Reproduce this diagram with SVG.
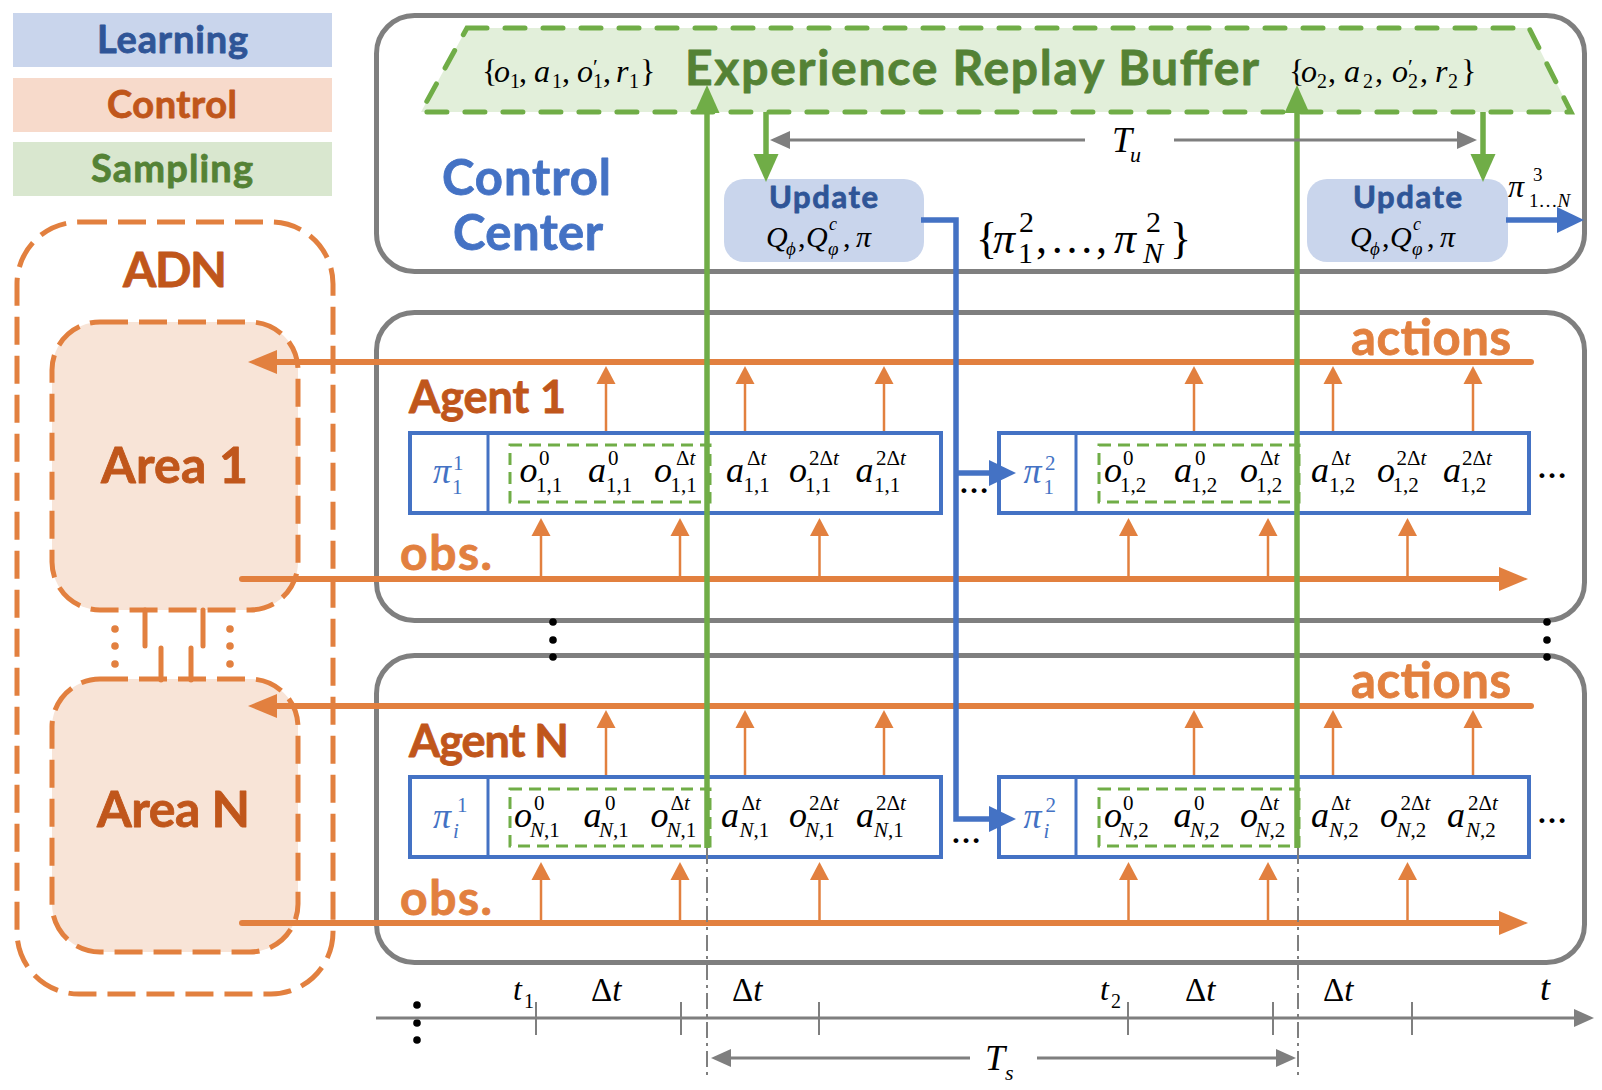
<svg xmlns="http://www.w3.org/2000/svg" width="1602" height="1090" viewBox="0 0 1602 1090">
<style>
.gbox{fill:none;stroke:#7f7f7f;stroke-width:5}
.pbox{fill:#fff;stroke:#4472c4;stroke-width:4}
.sdash{fill:none;stroke:#70ad47;stroke-width:3;stroke-dasharray:12 7}
.odash{stroke:#e2803f;stroke-width:5;stroke-dasharray:28 11}
.ol{stroke:#e2803f;stroke-width:6;fill:none;stroke-linecap:round}
.ot{stroke:#e2803f;stroke-width:2.5;fill:none}
.gl{stroke:#70ad47;stroke-width:5.5;fill:none}
.bl{stroke:#4472c4;stroke-width:5.5;fill:none;stroke-linejoin:miter}
.ga{stroke:#7f7f7f;stroke-width:3;fill:none}
.gd{stroke:#7f7f7f;stroke-width:2;stroke-dasharray:16 5 3 5;fill:none}
.tick{stroke:#7f7f7f;stroke-width:2}
.cal{font-family:Lato,"Open Sans",sans-serif;font-weight:700;stroke-width:0.8px;stroke-linejoin:round}
.c-blue{fill:#4472c4;stroke:#4472c4}
.c-dblue{fill:#2f5597;stroke:#2f5597}
.c-brown{fill:#c0561b;stroke:#c0561b}
.c-orange{fill:#e2803f;stroke:#e2803f}
.c-green{fill:#548235;stroke:#548235}
.tm{font-family:"Liberation Serif","Times New Roman",serif;fill:#000}
.m{font-family:"Liberation Serif","Times New Roman",serif;font-size:36px;font-style:italic;fill:#000}
.s{font-size:21px;font-style:normal}
.i{font-style:italic}
.n{font-style:normal}
.pi{fill:#4472c4}
.dot{fill:#000}
.odot{fill:#e2803f}
</style>
<defs>
<marker id="mo" markerUnits="userSpaceOnUse" markerWidth="30" markerHeight="30" refX="1" refY="0" orient="auto" overflow="visible"><path d="M0,-12 L29,0 L0,12 z" fill="#e2803f"/></marker>
<marker id="mos" markerUnits="userSpaceOnUse" markerWidth="20" markerHeight="20" refX="1" refY="0" orient="auto" overflow="visible"><path d="M0,-9.5 L18,0 L0,9.5 z" fill="#e2803f"/></marker>
<marker id="mg" markerUnits="userSpaceOnUse" markerWidth="30" markerHeight="30" refX="1" refY="0" orient="auto" overflow="visible"><path d="M0,-12.5 L28,0 L0,12.5 z" fill="#70ad47"/></marker>
<marker id="mb" markerUnits="userSpaceOnUse" markerWidth="30" markerHeight="30" refX="1" refY="0" orient="auto" overflow="visible"><path d="M0,-13 L27,0 L0,13 z" fill="#4472c4"/></marker>
<marker id="mgr" markerUnits="userSpaceOnUse" markerWidth="22" markerHeight="22" refX="1" refY="0" orient="auto" overflow="visible"><path d="M0,-9 L20,0 L0,9 z" fill="#7f7f7f"/></marker>
</defs>
<rect width="1602" height="1090" fill="#fff"/>

<g id="legend">
<g id="legend-learning"><rect x="13" y="13" width="319" height="54" fill="#c9d5ec"/><text class="cal c-dblue" x="97" y="53" font-size="38" textLength="151">Learning</text></g>
<g id="legend-control"><rect x="13" y="78" width="319" height="54" fill="#f7dacb"/><text class="cal c-brown" x="107" y="118" font-size="38" textLength="130">Control</text></g>
<g id="legend-sampling"><rect x="13" y="142" width="319" height="54" fill="#d9e7cf"/><text class="cal c-green" x="91" y="182" font-size="38" textLength="162">Sampling</text></g>
</g>

<g id="adn">
<rect x="17" y="222" width="316" height="772" rx="62" fill="none" class="odash"/>
<text class="cal c-brown" x="123" y="287" font-size="48" textLength="104">ADN</text>
</g>
<g id="area1">
<rect x="52" y="322" width="246" height="288" rx="48" fill="#f8e4d7" class="odash"/>
<text class="cal c-brown" x="101" y="483" font-size="50" textLength="147">Area 1</text>
</g>
<g id="areaN">
<rect x="52" y="679" width="246" height="273" rx="48" fill="#f8e4d7" class="odash"/>
<text class="cal c-brown" x="97" y="827" font-size="50" textLength="153">Area N</text>
</g>

<g id="control-center">
<rect class="gbox" x="376.5" y="15.5" width="1208" height="256" rx="38"/>
<text class="cal c-blue" x="442" y="195" font-size="49" textLength="169">Control</text>
<text class="cal c-blue" x="453" y="250" font-size="49" textLength="150">Center</text>
</g>

<g id="replay-buffer">
<polygon points="467,28 1529,28 1571,112 421,112" fill="#e2efda" stroke="#70ad47" stroke-width="5" stroke-dasharray="20 18" stroke-linecap="round"/>
<text class="cal c-green" x="685" y="85" font-size="48" textLength="574">Experience Replay Buffer</text>
<text class="tm" font-size="32" y="82"><tspan x="482">{</tspan><tspan x="494" class="i">o</tspan><tspan x="510" y="88" font-size="20">1</tspan><tspan x="519" y="82">,</tspan><tspan x="534" class="i">a</tspan><tspan x="552" y="88" font-size="20">1</tspan><tspan x="562" y="82">,</tspan><tspan x="577" class="i">o</tspan><tspan x="593" y="74" font-size="22">′</tspan><tspan x="593" y="88" font-size="20">1</tspan><tspan x="603" y="82">,</tspan><tspan x="616" class="i">r</tspan><tspan x="629" y="88" font-size="20">1</tspan><tspan x="640" y="82">}</tspan></text>
<text class="tm" font-size="32" y="82"><tspan x="1289">{</tspan><tspan x="1301" class="i">o</tspan><tspan x="1317" y="88" font-size="20">2</tspan><tspan x="1328" y="82">,</tspan><tspan x="1344" class="i">a</tspan><tspan x="1363" y="88" font-size="20">2</tspan><tspan x="1375" y="82">,</tspan><tspan x="1392" class="i">o</tspan><tspan x="1408" y="74" font-size="22">′</tspan><tspan x="1408" y="88" font-size="20">2</tspan><tspan x="1420" y="82">,</tspan><tspan x="1435" class="i">r</tspan><tspan x="1448" y="88" font-size="20">2</tspan><tspan x="1461" y="82">}</tspan></text>
</g>

<g id="update1">
<rect x="724" y="179" width="200" height="83" rx="20" fill="#c9d5ec"/>
<text class="cal c-dblue" x="769" y="208" font-size="31" textLength="109">Update</text>
<text class="tm" font-size="30" y="247"><tspan x="766" class="i">Q</tspan><tspan x="786" y="255" font-size="19" class="i">ϕ</tspan><tspan x="798" y="247">,</tspan><tspan x="806" class="i">Q</tspan><tspan x="829" y="230" font-size="18" class="i">c</tspan><tspan x="828" y="255" font-size="19" class="i">φ</tspan><tspan x="843" y="247">,</tspan><tspan x="856" class="i">π</tspan></text>
</g>
<g id="update2">
<rect x="1307" y="179" width="201" height="83" rx="20" fill="#c9d5ec"/>
<text class="cal c-dblue" x="1353" y="208" font-size="31" textLength="109">Update</text>
<text class="tm" font-size="30" y="247"><tspan x="1350" class="i">Q</tspan><tspan x="1370" y="255" font-size="19" class="i">ϕ</tspan><tspan x="1382" y="247">,</tspan><tspan x="1390" class="i">Q</tspan><tspan x="1413" y="230" font-size="18" class="i">c</tspan><tspan x="1412" y="255" font-size="19" class="i">φ</tspan><tspan x="1427" y="247">,</tspan><tspan x="1440" class="i">π</tspan></text>
</g>

<g id="policy-set-label">
<text class="tm" font-size="44" y="253"><tspan x="976">{</tspan><tspan x="993" class="i">π</tspan><tspan x="1019" y="232" font-size="30">2</tspan><tspan x="1018" y="263" font-size="30">1</tspan><tspan x="1036" y="253">,</tspan><tspan x="1050" y="253">…</tspan><tspan x="1096" y="253">,</tspan><tspan x="1114" class="i">π</tspan><tspan x="1146" y="232" font-size="30">2</tspan><tspan x="1143" y="263" font-size="30" class="i">N</tspan><tspan x="1170" y="253">}</tspan></text>
</g>
<g id="policy-next-label">
<text class="tm i" x="1508" y="197" font-size="32">π<tspan class="n" x="1533" y="181" font-size="19">3</tspan><tspan class="n" x="1529" y="207" font-size="19">1…<tspan class="i">N</tspan></tspan></text>
</g>
<g id="tu-label"><text class="tm i" x="1112" y="152" font-size="36">T<tspan x="1130" y="162" font-size="22">u</tspan></text></g>

<g id="agent1">
<rect class="gbox" x="376.5" y="312.5" width="1208" height="308" rx="38"/>
<text class="cal c-brown" x="409" y="413" font-size="45" textLength="157">Agent 1</text>
<text class="cal c-orange" x="1351" y="355" font-size="49" textLength="160">actions</text>
<text class="cal c-orange" x="400" y="570" font-size="48" textLength="92">obs.</text>
</g>
<g id="agentN">
<rect class="gbox" x="376.5" y="655.5" width="1208" height="307" rx="38"/>
<text class="cal c-brown" x="409" y="757" font-size="45" textLength="160">Agent N</text>
<text class="cal c-orange" x="1351" y="698" font-size="49" textLength="160">actions</text>
<text class="cal c-orange" x="400" y="915" font-size="48" textLength="92">obs.</text>
</g>

<g id="policy-1-1">
<rect class="pbox" x="410" y="433" width="531" height="80"/>
<line x1="488" y1="433" x2="488" y2="513" stroke="#4472c4" stroke-width="3"/>
<rect class="sdash" x="510" y="445" width="200" height="57"/>
<text class="m pi" x="433" y="483">π<tspan class="s" x="453" y="470">1</tspan><tspan class="s" x="452" y="494">1</tspan></text>
<text class="m" x="519.5" y="482">o<tspan class="s" x="539" y="465">0</tspan><tspan class="s" x="536" y="492">1,1</tspan></text>
<text class="m" x="588" y="482">a<tspan class="s" x="608" y="465">0</tspan><tspan class="s" x="606" y="492">1,1</tspan></text>
<text class="m" x="654" y="482">o<tspan class="s" x="676" y="465">Δ<tspan class="i">t</tspan></tspan><tspan class="s" x="670.5" y="492">1,1</tspan></text>
<text class="m" x="726" y="482">a<tspan class="s" x="747" y="465">Δ<tspan class="i">t</tspan></tspan><tspan class="s" x="743.5" y="492">1,1</tspan></text>
<text class="m" x="789" y="482">o<tspan class="s" x="809" y="465">2Δ<tspan class="i">t</tspan></tspan><tspan class="s" x="805" y="492">1,1</tspan></text>
<text class="m" x="855.5" y="482">a<tspan class="s" x="876" y="465">2Δ<tspan class="i">t</tspan></tspan><tspan class="s" x="874" y="492">1,1</tspan></text>
</g>
<g id="policy-1-2">
<rect class="pbox" x="999" y="433" width="530" height="80"/>
<line x1="1076" y1="433" x2="1076" y2="513" stroke="#4472c4" stroke-width="3"/>
<rect class="sdash" x="1099" y="445" width="200" height="57"/>
<text class="m pi" x="1023.5" y="483">π<tspan class="s" x="1045" y="470">2</tspan><tspan class="s" x="1043.5" y="494">1</tspan></text>
<text class="m" x="1104" y="482">o<tspan class="s" x="1123" y="465">0</tspan><tspan class="s" x="1120" y="492">1,2</tspan></text>
<text class="m" x="1174" y="482">a<tspan class="s" x="1195" y="465">0</tspan><tspan class="s" x="1191" y="492">1,2</tspan></text>
<text class="m" x="1240" y="482">o<tspan class="s" x="1260" y="465">Δ<tspan class="i">t</tspan></tspan><tspan class="s" x="1256" y="492">1,2</tspan></text>
<text class="m" x="1311" y="482">a<tspan class="s" x="1331" y="465">Δ<tspan class="i">t</tspan></tspan><tspan class="s" x="1329" y="492">1,2</tspan></text>
<text class="m" x="1377" y="482">o<tspan class="s" x="1396.5" y="465">2Δ<tspan class="i">t</tspan></tspan><tspan class="s" x="1392.5" y="492">1,2</tspan></text>
<text class="m" x="1443" y="482">a<tspan class="s" x="1462" y="465">2Δ<tspan class="i">t</tspan></tspan><tspan class="s" x="1460" y="492">1,2</tspan></text>
</g>
<g id="policy-N-1">
<rect class="pbox" x="410" y="777" width="531" height="80"/>
<line x1="488" y1="777" x2="488" y2="857" stroke="#4472c4" stroke-width="3"/>
<rect class="sdash" x="510" y="789" width="200" height="57"/>
<text class="m pi" x="433" y="828">π<tspan class="s" x="457" y="812">1</tspan><tspan class="s i" x="453" y="838">i</tspan></text>
<text class="m" x="514" y="827">o<tspan class="s" x="534" y="810">0</tspan><tspan class="s" x="530" y="837"><tspan class="i">N</tspan>,1</tspan></text>
<text class="m" x="583.5" y="827">a<tspan class="s" x="605" y="810">0</tspan><tspan class="s" x="599" y="837"><tspan class="i">N</tspan>,1</tspan></text>
<text class="m" x="650.5" y="827">o<tspan class="s" x="670.5" y="810">Δ<tspan class="i">t</tspan></tspan><tspan class="s" x="666.5" y="837"><tspan class="i">N</tspan>,1</tspan></text>
<text class="m" x="721" y="827">a<tspan class="s" x="741.5" y="810">Δ<tspan class="i">t</tspan></tspan><tspan class="s" x="739.5" y="837"><tspan class="i">N</tspan>,1</tspan></text>
<text class="m" x="789" y="827">o<tspan class="s" x="809" y="810">2Δ<tspan class="i">t</tspan></tspan><tspan class="s" x="805" y="837"><tspan class="i">N</tspan>,1</tspan></text>
<text class="m" x="856" y="827">a<tspan class="s" x="876" y="810">2Δ<tspan class="i">t</tspan></tspan><tspan class="s" x="874" y="837"><tspan class="i">N</tspan>,1</tspan></text>
</g>
<g id="policy-N-2">
<rect class="pbox" x="999" y="777" width="530" height="80"/>
<line x1="1076" y1="777" x2="1076" y2="857" stroke="#4472c4" stroke-width="3"/>
<rect class="sdash" x="1099" y="789" width="200" height="57"/>
<text class="m pi" x="1023.5" y="828">π<tspan class="s" x="1045.5" y="812">2</tspan><tspan class="s i" x="1043.5" y="838">i</tspan></text>
<text class="m" x="1104" y="827">o<tspan class="s" x="1123" y="810">0</tspan><tspan class="s" x="1119" y="837"><tspan class="i">N</tspan>,2</tspan></text>
<text class="m" x="1173.5" y="827">a<tspan class="s" x="1194" y="810">0</tspan><tspan class="s" x="1190" y="837"><tspan class="i">N</tspan>,2</tspan></text>
<text class="m" x="1240" y="827">o<tspan class="s" x="1259.5" y="810">Δ<tspan class="i">t</tspan></tspan><tspan class="s" x="1255.5" y="837"><tspan class="i">N</tspan>,2</tspan></text>
<text class="m" x="1311" y="827">a<tspan class="s" x="1331" y="810">Δ<tspan class="i">t</tspan></tspan><tspan class="s" x="1329" y="837"><tspan class="i">N</tspan>,2</tspan></text>
<text class="m" x="1380" y="827">o<tspan class="s" x="1400.5" y="810">2Δ<tspan class="i">t</tspan></tspan><tspan class="s" x="1396.5" y="837"><tspan class="i">N</tspan>,2</tspan></text>
<text class="m" x="1447" y="827">a<tspan class="s" x="1468" y="810">2Δ<tspan class="i">t</tspan></tspan><tspan class="s" x="1466" y="837"><tspan class="i">N</tspan>,2</tspan></text>
</g>

<g id="ellipses">
<text class="tm" x="959" y="493" font-size="30" font-weight="700">…</text>
<text class="tm" x="1537" y="478" font-size="30" font-weight="700">…</text>
<text class="tm" x="951" y="843" font-size="30" font-weight="700">…</text>
<text class="tm" x="1537" y="823" font-size="30" font-weight="700">…</text>
<circle class="dot" cx="553" cy="622" r="3.8"/><circle class="dot" cx="553" cy="640" r="3.8"/><circle class="dot" cx="553" cy="657" r="3.8"/>
<circle class="dot" cx="1547" cy="622" r="3.8"/><circle class="dot" cx="1547" cy="640" r="3.8"/><circle class="dot" cx="1547" cy="657" r="3.8"/>
<circle class="dot" cx="417" cy="1005" r="3.8"/><circle class="dot" cx="417" cy="1023" r="3.8"/><circle class="dot" cx="417" cy="1040" r="3.8"/>
<circle class="odot" cx="115" cy="629" r="3.8"/><circle class="odot" cx="115" cy="646" r="3.8"/><circle class="odot" cx="115" cy="664" r="3.8"/>
<circle class="odot" cx="230" cy="629" r="3.8"/><circle class="odot" cx="230" cy="646" r="3.8"/><circle class="odot" cx="230" cy="664" r="3.8"/>
</g>

<g id="time-axis">
<path class="ga" d="M376,1018 H1575" marker-end="url(#mgr)"/>
<path class="tick" d="M536,1002 V1035 M681,1002 V1035 M819,1002 V1035 M1128,1002 V1035 M1273,1002 V1035 M1412,1002 V1035"/>
<text class="tm i" x="513" y="1000" font-size="32">t<tspan class="n" x="524" y="1008" font-size="20">1</tspan></text>
<text class="tm" x="591" y="1001" font-size="33">Δ<tspan class="i">t</tspan></text>
<text class="tm" x="732" y="1001" font-size="33">Δ<tspan class="i">t</tspan></text>
<text class="tm i" x="1100" y="1000" font-size="32">t<tspan class="n" x="1111" y="1008" font-size="20">2</tspan></text>
<text class="tm" x="1185" y="1001" font-size="33">Δ<tspan class="i">t</tspan></text>
<text class="tm" x="1323" y="1001" font-size="33">Δ<tspan class="i">t</tspan></text>
<text class="tm i" x="1540" y="1000" font-size="36">t</text>
<text class="tm i" x="985" y="1070" font-size="36">T<tspan x="1005" y="1080" font-size="22">s</tspan></text>
</g>

<g id="connectors">
<path d="M145,610 V646 M203,610 V646 M161,648 V680 M191,648 V680" stroke="#e2803f" stroke-width="5" stroke-linecap="round" fill="none"/>
<path class="ol" d="M1531,362 H276" marker-end="url(#mo)"/>
<path class="ol" d="M242,579 H1500" marker-end="url(#mo)"/>
<path class="ol" d="M1531,706 H276" marker-end="url(#mo)"/>
<path class="ol" d="M242,923 H1500" marker-end="url(#mo)"/>
<path class="ot" d="M606,431 V383" marker-end="url(#mos)"/>
<path class="ot" d="M745,431 V383" marker-end="url(#mos)"/>
<path class="ot" d="M884,431 V383" marker-end="url(#mos)"/>
<path class="ot" d="M1194,431 V383" marker-end="url(#mos)"/>
<path class="ot" d="M1333,431 V383" marker-end="url(#mos)"/>
<path class="ot" d="M1473,431 V383" marker-end="url(#mos)"/>
<path class="ot" d="M606,775 V727" marker-end="url(#mos)"/>
<path class="ot" d="M745,775 V727" marker-end="url(#mos)"/>
<path class="ot" d="M884,775 V727" marker-end="url(#mos)"/>
<path class="ot" d="M1194,775 V727" marker-end="url(#mos)"/>
<path class="ot" d="M1333,775 V727" marker-end="url(#mos)"/>
<path class="ot" d="M1473,775 V727" marker-end="url(#mos)"/>
<path class="ot" d="M541,577 V535" marker-end="url(#mos)"/>
<path class="ot" d="M680,577 V535" marker-end="url(#mos)"/>
<path class="ot" d="M819.5,577 V535" marker-end="url(#mos)"/>
<path class="ot" d="M1128.5,577 V535" marker-end="url(#mos)"/>
<path class="ot" d="M1268,577 V535" marker-end="url(#mos)"/>
<path class="ot" d="M1407.5,577 V535" marker-end="url(#mos)"/>
<path class="ot" d="M541,921 V879" marker-end="url(#mos)"/>
<path class="ot" d="M680,921 V879" marker-end="url(#mos)"/>
<path class="ot" d="M819.5,921 V879" marker-end="url(#mos)"/>
<path class="ot" d="M1128.5,921 V879" marker-end="url(#mos)"/>
<path class="ot" d="M1268,921 V879" marker-end="url(#mos)"/>
<path class="ot" d="M1407.5,921 V879" marker-end="url(#mos)"/>
<path class="gd" d="M707,848 V1077 M1298,848 V1077"/>
<path class="gl" d="M707,848 V112" marker-end="url(#mg)"/>
<path class="gl" d="M1297,848 V112" marker-end="url(#mg)"/>
<path class="gl" d="M766,112 V155" marker-end="url(#mg)"/>
<path class="gl" d="M1483,112 V155" marker-end="url(#mg)"/>
<path class="ga" d="M1085,140 H789" marker-end="url(#mgr)"/>
<path class="ga" d="M1174,140 H1458" marker-end="url(#mgr)"/>
<path class="ga" d="M970,1058 H730" marker-end="url(#mgr)"/>
<path class="ga" d="M1037,1058 H1277" marker-end="url(#mgr)"/>
<path class="bl" d="M921,220 H956 V819 H990" marker-end="url(#mb)"/>
<path class="bl" d="M956,473 H990" marker-end="url(#mb)"/>
<path class="bl" d="M1506,220 H1558" marker-end="url(#mb)"/>
</g>
</svg>
